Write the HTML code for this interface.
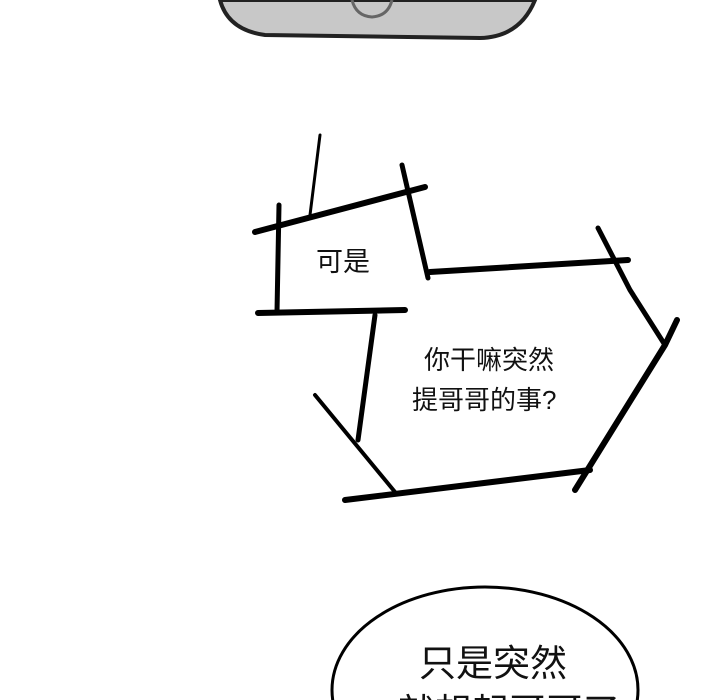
<!DOCTYPE html>
<html><head><meta charset="utf-8"><style>
html,body{margin:0;padding:0;background:#fff;width:720px;height:700px;overflow:hidden;}
svg{display:block}
text{font-family:"Liberation Sans","Noto Sans CJK SC",sans-serif;fill:#111}
</style></head><body>
<svg width="720" height="700" viewBox="0 0 720 700" xmlns="http://www.w3.org/2000/svg">
<path d="M220,0 Q228,30 265,35 L480,38 Q520,37 535,0 Z" fill="#c8c8c8" stroke="#222" stroke-width="4"/>
<path d="M352,0 Q356,16 372,17 Q388,16 392,0" fill="none" stroke="#666" stroke-width="3"/>
<g stroke="#000" fill="none" stroke-linecap="round">
<path d="M320,135 L310,215" stroke-width="3"/>
<path d="M255,232 L425,187" stroke-width="6"/>
<path d="M402,165 L428,278" stroke-width="5"/>
<path d="M279,205 L277,312" stroke-width="5"/>
<path d="M258,313 L405,310" stroke-width="6"/>
<path d="M430,272 L628,260" stroke-width="6"/>
<path d="M598,228 L630,290 L665,345" stroke-width="5"/>
<path d="M677,320 L665,345 L575,490" stroke-width="6"/>
<path d="M375,315 L358,440" stroke-width="5"/>
<path d="M315,395 L395,492" stroke-width="4"/>
<path d="M345,500 L590,470" stroke-width="6"/>
</g>
<text x="316" y="271" font-size="27">可是</text>
<text x="424" y="369" font-size="26">你干嘛突然</text>
<text x="412" y="409" font-size="26">提哥哥的事?</text>
<ellipse cx="485" cy="690" rx="153" ry="103" fill="#fff" stroke="#000" stroke-width="3"/>
<text x="419" y="676" font-size="37">只是突然</text>
<text x="398" y="725" font-size="37">就想起哥哥了</text>
</svg>
</body></html>
